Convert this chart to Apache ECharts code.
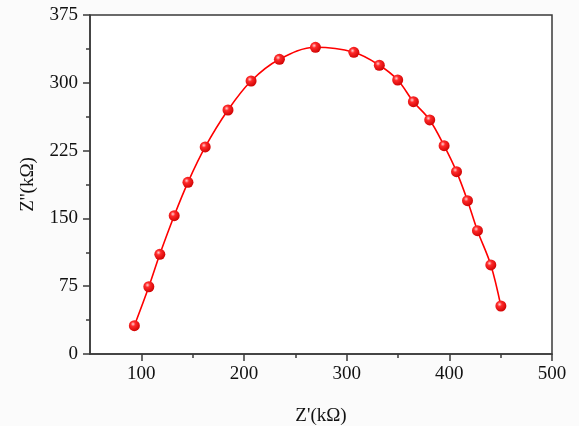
<!DOCTYPE html>
<html>
<head>
<meta charset="utf-8">
<script src="https://cdn.jsdelivr.net/npm/echarts@6/dist/echarts.min.js"></script>
<style>
html,body{margin:0;padding:0;background:#fbfbfb;}
#chart{width:579px;height:426px;}
</style>
</head>
<body>
<div id="chart"></div>
<script>
// Z' (kΩ)
var zReal = [93.2, 107.3, 118.0, 132.0, 145.4, 162.2, 184.4, 206.9, 234.5, 269.6, 307.0,
             331.8, 349.7, 365.0, 380.9, 394.9, 407.0, 417.7, 427.4, 440.4, 450.2];
// Z'' (kΩ)
var zImag = [31.3, 74.4, 110.3, 153.0, 189.9, 229.0, 269.9, 302.0, 326.0, 339.3, 333.7,
             319.4, 303.1, 279.1, 258.9, 230.4, 201.7, 169.6, 136.4, 98.5, 53.1];
var xMajorTicks = [100, 200, 300, 400, 500];
var xMinorTicks = [150, 250, 350, 450];
var yMajorTicks = [0, 75, 150, 225, 300, 375];
var xTitle = "Z'(kΩ)";
var yTitle = "Z''(kΩ)";

var pts = zReal.map(function (x, i) { return [x, zImag[i]]; });
var font = '"Liberation Serif", "Times New Roman", serif';
var axisColor = '#3a3a3a';

var chart = echarts.init(document.getElementById('chart'), null, {renderer: 'canvas'});
chart.setOption({
  backgroundColor: '#fbfbfb',
  animation: false,
  grid: {left: 90, top: 15, right: 27, bottom: 72, show: true, containLabel: false,
         outerBoundsMode: 'none',
         borderColor: axisColor, borderWidth: 1.5, backgroundColor: '#ffffff'},
  xAxis: [{
    type: 'value', min: 50, max: 500, interval: 50, position: 'bottom',
    name: xTitle, nameLocation: 'middle', nameGap: 53,
    nameTextStyle: {fontFamily: font, fontSize: 19, color: '#111'},
    axisLine: {show: true, onZero: false, lineStyle: {color: axisColor, width: 1.5}},
    axisTick: {show: true, inside: false, length: 7, customValues: xMajorTicks,
               lineStyle: {color: axisColor, width: 1.5}},
    axisLabel: {show: true, customValues: xMajorTicks, margin: 11,
                fontFamily: font, fontSize: 19, color: '#111'},
    splitLine: {show: false}
  }, {
    type: 'value', min: 50, max: 500, interval: 50, position: 'bottom', show: true,
    axisLine: {show: false, onZero: false},
    axisTick: {show: true, inside: false, length: 4, customValues: xMinorTicks,
               lineStyle: {color: axisColor, width: 1.5}},
    axisLabel: {show: false},
    splitLine: {show: false}
  }],
  yAxis: [{
    type: 'value', min: 0, max: 375, interval: 75, position: 'left',
    name: yTitle, nameLocation: 'middle', nameGap: 52, nameRotate: 90,
    nameTextStyle: {fontFamily: font, fontSize: 19, color: '#111'},
    axisLine: {show: true, onZero: false, lineStyle: {color: axisColor, width: 1.5}},
    axisTick: {show: true, inside: false, length: 7, lineStyle: {color: axisColor, width: 1.5}},
    minorTick: {show: true, splitNumber: 2, length: 4, lineStyle: {color: axisColor, width: 1.5}},
    axisLabel: {show: true, customValues: yMajorTicks, margin: 12,
                fontFamily: font, fontSize: 19, color: '#111'},
    splitLine: {show: false}, minorSplitLine: {show: false}
  }],
  series: [{
    type: 'line',
    xAxisIndex: 0, yAxisIndex: 0,
    data: pts,
    smooth: 0.35,
    lineStyle: {color: '#ff0000', width: 1.6},
    symbol: 'circle',
    symbolSize: 11,
    itemStyle: {
      color: {type: 'radial', x: 0.38, y: 0.35, r: 0.7,
        colorStops: [{offset: 0, color: '#ffd0d0'}, {offset: 0.3, color: '#ff2a2a'},
                     {offset: 1, color: '#cc0000'}]},
      borderWidth: 0
    },
    z: 3
  }]
});
</script>
</body>
</html>
